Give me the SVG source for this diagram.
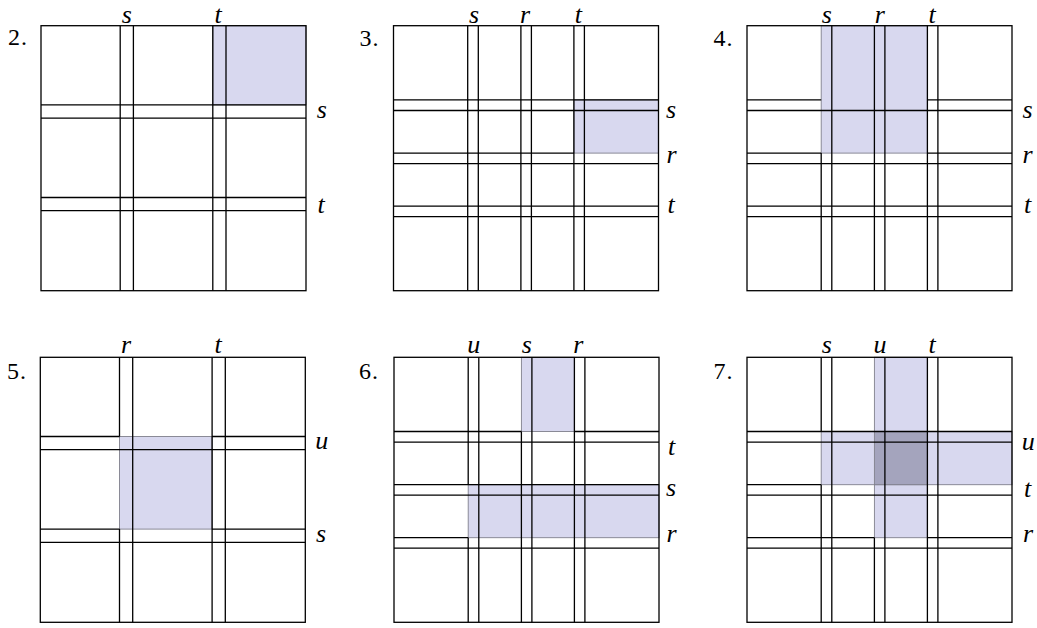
<svg xmlns="http://www.w3.org/2000/svg" width="1037" height="628" viewBox="0 0 1037 628">
<style>
.bg{fill:#ffffff}
.sh{fill:#d8d8ef;stroke:#80808c;stroke-width:0.9}
.sh2{fill:#a4a4bd;stroke:#80808c;stroke-width:0.9}
.ln{fill:none;stroke:#000;stroke-width:1.3}
.box{fill:none;stroke:#000;stroke-width:1.3}
text{font-family:'Liberation Serif','Times New Roman',serif}
.lab{font-style:italic;font-size:26px;text-anchor:middle;fill:#000}
.num{font-size:24px;letter-spacing:1px;fill:#000}
</style>
<rect class="bg" x="0" y="0" width="1037" height="628"/>

<g id="panel2" transform="translate(41,25.7)">
<rect class="sh" x="171.8" y="0" width="93.2" height="79.2"/>
<path class="ln" d="M79.2 0V265M92.4 0V265M171.8 0V265M185 0V265M0 79.2H265M0 92.4H265M0 171.8H265M0 185H265"/>
<rect class="box" x="0" y="0" width="265" height="265"/>
<text class="num" x="-33" y="19.3">2.</text>
<text class="lab" x="85.7" y="-3.2">s</text>
<text class="lab" x="177" y="-3.2">t</text>
<text class="lab" x="280.7" y="92.6">s</text>
<text class="lab" x="280" y="187.6">t</text>
</g>

<g id="panel3" transform="translate(393.5,25.7)">
<rect class="sh" x="180.4" y="74.2" width="84.6" height="53.2"/>
<path class="ln" d="M74.2 0V265M84.8 0V265M127.4 0V265M137.9 0V265M180.4 0V265M190.9 0V265M0 74.2H265M0 84.8H265M0 127.4H180.4M0 137.9H265M0 180.4H265M0 190.9H265"/>
<rect class="box" x="0" y="0" width="265" height="265"/>
<text class="num" x="-34" y="20">3.</text>
<text class="lab" x="80.5" y="-3.2">s</text>
<text class="lab" x="131.5" y="-3.2">r</text>
<text class="lab" x="184.8" y="-3.2">t</text>
<text class="lab" x="277.5" y="92.6">s</text>
<text class="lab" x="278" y="137.6">r</text>
<text class="lab" x="277.5" y="187.6">t</text>
</g>

<g id="panel4" transform="translate(747,25.7)">
<rect class="sh" x="74.2" y="0" width="106.2" height="127.4"/>
<path class="ln" d="M74.2 127.4V265M84.8 0V265M127.4 0V265M137.9 0V265M180.4 0V265M190.9 0V265M0 74.2H74.2M180.4 74.2H265M0 84.8H265M0 127.4H74.2M180.4 127.4H265M0 137.9H265M0 180.4H265M0 190.9H265"/>
<rect class="box" x="0" y="0" width="265" height="265"/>
<text class="num" x="-33.5" y="20">4.</text>
<text class="lab" x="79.7" y="-3.2">s</text>
<text class="lab" x="132.7" y="-3.2">r</text>
<text class="lab" x="185" y="-3.2">t</text>
<text class="lab" x="280.5" y="92.6">s</text>
<text class="lab" x="280.5" y="137.6">r</text>
<text class="lab" x="280.5" y="187.6">t</text>
</g>

<g id="panel5" transform="translate(40.3,357.3)">
<rect class="sh" x="79.2" y="79.2" width="92.6" height="92.6"/>
<path class="ln" d="M79.2 0V79.2M79.2 171.8V265M92.4 0V265M171.8 0V265M185 0V265M0 79.2H79.2M171.8 79.2H265M0 92.4H265M0 171.8H79.2M171.8 171.8H265M0 185H265"/>
<rect class="box" x="0" y="0" width="265" height="265"/>
<text class="num" x="-33.3" y="21.7">5.</text>
<text class="lab" x="85.7" y="-4">r</text>
<text class="lab" x="177.7" y="-4">t</text>
<text class="lab" x="281.4" y="92">u</text>
<text class="lab" x="280.7" y="185">s</text>
</g>

<g id="panel6" transform="translate(394,357.3)">
<rect class="sh" x="127.4" y="0" width="53" height="74.2"/>
<rect class="sh" x="74.2" y="127.4" width="190.8" height="53"/>
<path class="ln" d="M74.2 0V127.4M74.2 180.4V265M84.8 0V265M127.4 74.2V265M137.9 0V265M180.4 0V265M190.9 0V265M0 74.2H127.4M180.4 74.2H265M0 84.8H265M0 127.4H265M0 137.9H265M0 180.4H74.2M0 190.9H265"/>
<rect class="box" x="0" y="0" width="265" height="265"/>
<text class="num" x="-35" y="21.7">6.</text>
<text class="lab" x="79.7" y="-4">u</text>
<text class="lab" x="132.7" y="-4">s</text>
<text class="lab" x="184.3" y="-4">r</text>
<text class="lab" x="277.5" y="97.7">t</text>
<text class="lab" x="277" y="138.7">s</text>
<text class="lab" x="277.5" y="184.4">r</text>
</g>

<g id="panel7" transform="translate(747,357.3)">
<rect class="sh" x="127.4" y="0" width="53" height="180.4"/>
<rect class="sh" x="74.2" y="74.2" width="190.8" height="53.2"/>
<rect class="sh2" x="127.4" y="74.2" width="53" height="53.2"/>
<path class="ln" d="M74.2 0V74.2M74.2 127.4V265M84.8 0V265M127.4 180.4V265M137.9 0V265M180.4 0V265M190.9 0V265M0 74.2H265M0 84.8H265M0 127.4H74.2M0 137.9H265M0 180.4H127.4M180.4 180.4H265M0 190.9H265"/>
<rect class="box" x="0" y="0" width="265" height="265"/>
<text class="num" x="-33.5" y="21.7">7.</text>
<text class="lab" x="79.7" y="-4">s</text>
<text class="lab" x="133" y="-4">u</text>
<text class="lab" x="185" y="-4">t</text>
<text class="lab" x="281.3" y="92.7">u</text>
<text class="lab" x="280.5" y="140">t</text>
<text class="lab" x="281" y="184.4">r</text>
</g>

<g id="connectors"></g>
</svg>
